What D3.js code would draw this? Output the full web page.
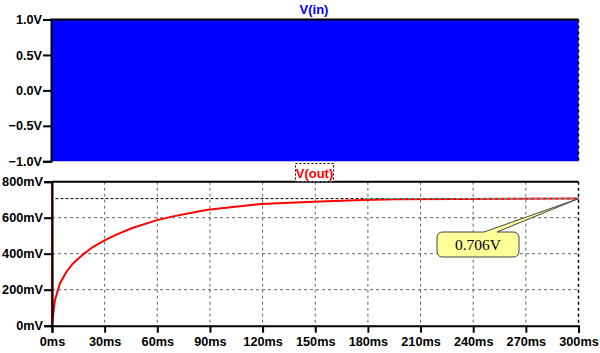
<!DOCTYPE html>
<html>
<head>
<meta charset="utf-8">
<script src="https://cdn.jsdelivr.net/npm/d3@7.9.0/dist/d3.min.js"></script>
<style>
  body { margin: 0; background: #fff; }
  text { font-family: "Liberation Sans", Arial, sans-serif; font-weight: bold; font-size: 12.7px; }
</style>
</head>
<body>
<div id="chart"></div>
<script>
// data
const timeTicks = [0, 30, 60, 90, 120, 150, 180, 210, 240, 270, 300];
const vinTicks = [1.0, 0.5, 0.0, -0.5, -1.0];
const voutTicks = [0, 200, 400, 600, 800];

// V(in) oscillates too fast to resolve -> drawn as its envelope
const vinTime = [0, 300];
const vinLow = [-1, -1];
const vinHigh = [1, 1];

// V(out) in mV
const voutTime = [0, 0, 0.2, 0.75, 1.7, 4.5, 8.25, 12, 17.6, 23.25, 30, 36.4, 45.75, 59.4, 68.25, 83.3, 88.9, 118.9, 149, 177, 196, 230, 260, 300];
const voutMv = [0, 800, 20, 68, 143, 235, 300, 346, 395, 437, 474, 505, 543, 585, 606, 634, 644, 676, 689, 698, 702, 704, 705, 706];

const cursorMv = 706;
const cursorLabel = '0.706V';

const width = 600;
const height = 353;

const svg = d3.select('#chart')
    .append('svg')
    .attr('width', width)
    .attr('height', height);

const x = d3.scaleLinear().domain([0, 300]).range([52, 578.5]);
const yIn = d3.scaleLinear().domain([-1, 1]).range([161.3, 19.5]);
const yOut = d3.scaleLinear().domain([0, 800]).range([325.7, 181.7]);

// ---- top pane: V(in)
const vin = vinTime.map((t, i) => ({ t, lo: vinLow[i], hi: vinHigh[i] }));
svg.append('path')
    .datum(vin)
    .attr('fill', '#0000ff')
    .attr('d', d3.area().x(d => x(d.t)).y0(d => yIn(d.lo)).y1(d => yIn(d.hi)));

svg.append('g')
    .attr('transform', `translate(${x(0) - 1}, 0)`)
    .call(d3.axisLeft(yIn).tickValues(vinTicks).tickSize(8).tickPadding(1).tickFormat(d => d3.format('.1f')(d) + 'V'))
    .call(g => g.select('.domain').attr('stroke-width', 2))
    .call(g => g.selectAll('.tick line').attr('stroke-width', 2))
    .call(g => g.selectAll('text').attr('fill', '#000'));

svg.append('line')
    .attr('x1', x(0) - 2).attr('x2', x(300))
    .attr('y1', yIn(1)).attr('y2', yIn(1))
    .attr('stroke', '#000').attr('stroke-width', 2);
svg.append('line')
    .attr('x1', x(300)).attr('x2', x(300))
    .attr('y1', yIn(1)).attr('y2', yIn(-1))
    .attr('stroke', '#000').attr('stroke-width', 1.5).attr('stroke-dasharray', '3,3');

svg.append('text')
    .attr('x', 314).attr('y', 14)
    .attr('text-anchor', 'middle')
    .attr('fill', '#0000ff')
    .style('font-size', '13px')
    .text('V(in)');

// ---- bottom pane: V(out)
// grid
svg.append('g')
    .selectAll('line')
    .data(timeTicks.slice(1, -1))
    .join('line')
    .attr('x1', d => x(d)).attr('x2', d => x(d))
    .attr('y1', yOut(800)).attr('y2', yOut(0))
    .attr('stroke', '#666').attr('stroke-dasharray', '3,3');
svg.append('g')
    .selectAll('line')
    .data(voutTicks.slice(1, -1))
    .join('line')
    .attr('x1', x(0)).attr('x2', x(300))
    .attr('y1', d => yOut(d)).attr('y2', d => yOut(d))
    .attr('stroke', '#666').attr('stroke-dasharray', '3,3');

// cursor level
svg.append('line')
    .attr('x1', x(2)).attr('x2', x(300))
    .attr('y1', yOut(cursorMv)).attr('y2', yOut(cursorMv))
    .attr('stroke', '#000').attr('stroke-dasharray', '3,2');

// trace
const vout = voutTime.map((t, i) => ({ t, v: voutMv[i] }));
svg.append('path')
    .datum(vout)
    .attr('fill', 'none')
    .attr('stroke', '#ff0000')
    .attr('stroke-width', 2)
    .attr('d', d3.line().x(d => x(d.t)).y(d => yOut(d.v)));

svg.append('line')
    .attr('x1', x(179)).attr('x2', x(300))
    .attr('y1', yOut(cursorMv)).attr('y2', yOut(cursorMv))
    .attr('stroke', '#00dddd').attr('stroke-dasharray', '3,3');

// axes
svg.append('g')
    .attr('transform', `translate(0, ${yOut(0)})`)
    .call(d3.axisBottom(x).tickValues(timeTicks).tickSize(7).tickPadding(4).tickFormat(d => d + 'ms'))
    .call(g => g.select('.domain').attr('stroke-width', 2))
    .call(g => g.selectAll('.tick line').attr('stroke-width', 2))
    .call(g => g.selectAll('text').attr('fill', '#000'));

svg.append('g')
    .attr('transform', `translate(${x(0)}, 0)`)
    .call(d3.axisLeft(yOut).tickValues(voutTicks).tickSize(8).tickPadding(1).tickFormat(d => d + 'mV'))
    .call(g => g.select('.domain').attr('stroke-width', 2))
    .call(g => g.selectAll('.tick line').attr('stroke-width', 2))
    .call(g => g.selectAll('text').attr('fill', '#000'));

svg.append('line')
    .attr('x1', x(0)).attr('x2', x(300))
    .attr('y1', yOut(800)).attr('y2', yOut(800))
    .attr('stroke', '#000').attr('stroke-width', 2);
svg.append('line')
    .attr('x1', x(300)).attr('x2', x(300))
    .attr('y1', yOut(800)).attr('y2', yOut(0))
    .attr('stroke', '#000').attr('stroke-width', 1.5).attr('stroke-dasharray', '3,3');

// title with dashed box
svg.append('rect')
    .attr('x', 295.5).attr('y', 163.5)
    .attr('width', 38).attr('height', 18)
    .attr('fill', '#fff')
    .attr('stroke', '#000').attr('stroke-dasharray', '2,2');
svg.append('text')
    .attr('x', 314.5).attr('y', 178)
    .attr('text-anchor', 'middle')
    .attr('fill', '#ff0000')
    .style('font-size', '13px')
    .text('V(out)');

// annotation callout
const bx = 437, by = 232, bw = 82, bh = 25, r = 6;
const tipX = x(300), tipY = yOut(cursorMv);
svg.append('path')
    .attr('fill', '#ffff99')
    .attr('stroke', '#444')
    .attr('d', `M${bx + r},${by} L${bx + 47},${by} L${tipX},${tipY} L${bx + 60},${by} L${bx + bw - r},${by}
        Q${bx + bw},${by} ${bx + bw},${by + r} L${bx + bw},${by + bh - r} Q${bx + bw},${by + bh} ${bx + bw - r},${by + bh}
        L${bx + r},${by + bh} Q${bx},${by + bh} ${bx},${by + bh - r} L${bx},${by + r} Q${bx},${by} ${bx + r},${by} Z`);
svg.append('text')
    .attr('x', bx + bw / 2).attr('y', by + 18)
    .attr('text-anchor', 'middle')
    .style('font-family', '"Liberation Serif", "Times New Roman", serif')
    .style('font-weight', 'normal')
    .style('font-size', '15.5px')
    .text(cursorLabel);
</script>
</body>
</html>
